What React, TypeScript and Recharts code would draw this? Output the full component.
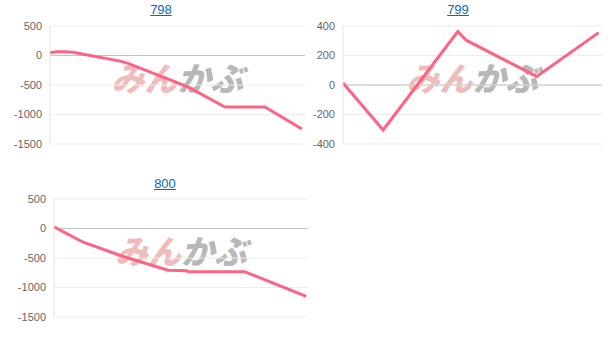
import { LineChart, Line, XAxis, YAxis, CartesianGrid, ReferenceLine } from 'recharts';

// trade index (0-100 scale) and cumulative profit for each system
const x798 = [0, 2.7, 5.9, 9, 27.5, 30.6, 54.1, 68.6, 84.3, 98.8];
const y798 = [45, 62, 62, 55, -95, -133, -533, -872, -872, -1245];

const x799 = [0, 15.5, 44.3, 47.7, 74.8, 98.7];
const y799 = [13, -305, 362, 302, 58, 355];

const x800 = [0, 11.5, 27.8, 44.9, 52.2, 53, 75.1, 99.3];
const y800 = [27, -233, -483, -707, -717, -733, -733, -1150];

const ticksWide = [500, 0, -500, -1000, -1500];
const ticksNarrow = [400, 200, 0, -200, -400];

const toRows = (xs: number[], ys: number[]) => xs.map((x, i) => ({ x, v: ys[i] }));

interface MiniChartProps {
  title: string;
  rows: { x: number; v: number }[];
  ticks: number[];
  left: number;
  top: number;
  width: number;
  height: number;
  axisWidth: number;
  margin: { top: number; right: number; bottom: number; left: number };
  titleX: number;
  titleY: number;
}

function MiniChart({ title, rows, ticks, left, top, width, height, axisWidth, margin, titleX, titleY }: MiniChartProps) {
  const plotW = width - margin.left - margin.right - axisWidth;
  const plotCx = margin.left + axisWidth + plotW / 2;
  const lo = Math.min(...ticks);
  const hi = Math.max(...ticks);
  return (
    <div style={{ position: 'absolute', left, top, width, height }}>
      <div
        style={{
          position: 'absolute',
          left: titleX - left - 40,
          top: titleY - top,
          width: 80,
          textAlign: 'center',
          fontFamily: '"Liberation Sans", Arial, sans-serif',
          fontSize: 13,
          color: '#0b66c8',
          textDecoration: 'underline',
        }}
      >
        {title}
      </div>
      {/* watermark */}
      <div
        style={{
          position: 'absolute',
          left: plotCx - 90,
          top: margin.top + 34,
          width: 180,
          textAlign: 'center',
          fontFamily: '"Noto Sans CJK JP", sans-serif',
          fontWeight: 900,
          fontStyle: 'italic',
          fontSize: 33,
          lineHeight: '34px',
          letterSpacing: 0,
          whiteSpace: 'nowrap',
        }}
      >
        <span style={{ color: '#efbcbc' }}>みん</span>
        <span style={{ color: '#b8b8b8' }}>かぶ</span>
      </div>
      <div style={{ position: 'absolute', left: 0, top: 0 }}>
        <LineChart width={width} height={height} data={rows} margin={margin}>
          <CartesianGrid vertical={false} stroke="#ececec" />
          <XAxis type="number" dataKey="x" domain={[0, 100]} height={0} tick={false} tickLine={false} axisLine={{ stroke: '#d6d6d6' }} />
          <YAxis
            width={axisWidth}
            domain={[lo, hi]}
            ticks={ticks}
            interval={0}
            tickLine={false}
            tickSize={0}
            tickMargin={8}
            axisLine={{ stroke: '#e2e2e2' }}
            tick={{ fill: '#666', fontSize: 11, fontFamily: '"Liberation Sans", Arial, sans-serif' }}
          />
          <ReferenceLine y={0} stroke="#c4c4c4" />
          <Line
            type="linear"
            dataKey="v"
            stroke="#ff6384"
            strokeWidth={3}
            dot={false}
            isAnimationActive={false}
          />
        </LineChart>
      </div>
    </div>
  );
}

export default function App() {
  return (
    <div style={{ position: 'absolute', left: 0, top: 0, width: 615, height: 344, background: '#fff' }}>
      <MiniChart
        title="798"
        rows={toRows(x798, y798)}
        ticks={ticksWide}
        left={0}
        top={0}
        width={310}
        height={160}
        axisWidth={50}
        margin={{ top: 26, right: 5, bottom: 16, left: 0 }}
        titleX={161}
        titleY={2}
      />
      <MiniChart
        title="799"
        rows={toRows(x799, y799)}
        ticks={ticksNarrow}
        left={305}
        top={0}
        width={310}
        height={160}
        axisWidth={38}
        margin={{ top: 26, right: 13, bottom: 16, left: 0 }}
        titleX={458}
        titleY={2}
      />
      <MiniChart
        title="800"
        rows={toRows(x800, y800)}
        ticks={ticksWide}
        left={0}
        top={170}
        width={315}
        height={165}
        axisWidth={54}
        margin={{ top: 29, right: 7, bottom: 18, left: 0 }}
        titleX={165}
        titleY={176}
      />
    </div>
  );
}
